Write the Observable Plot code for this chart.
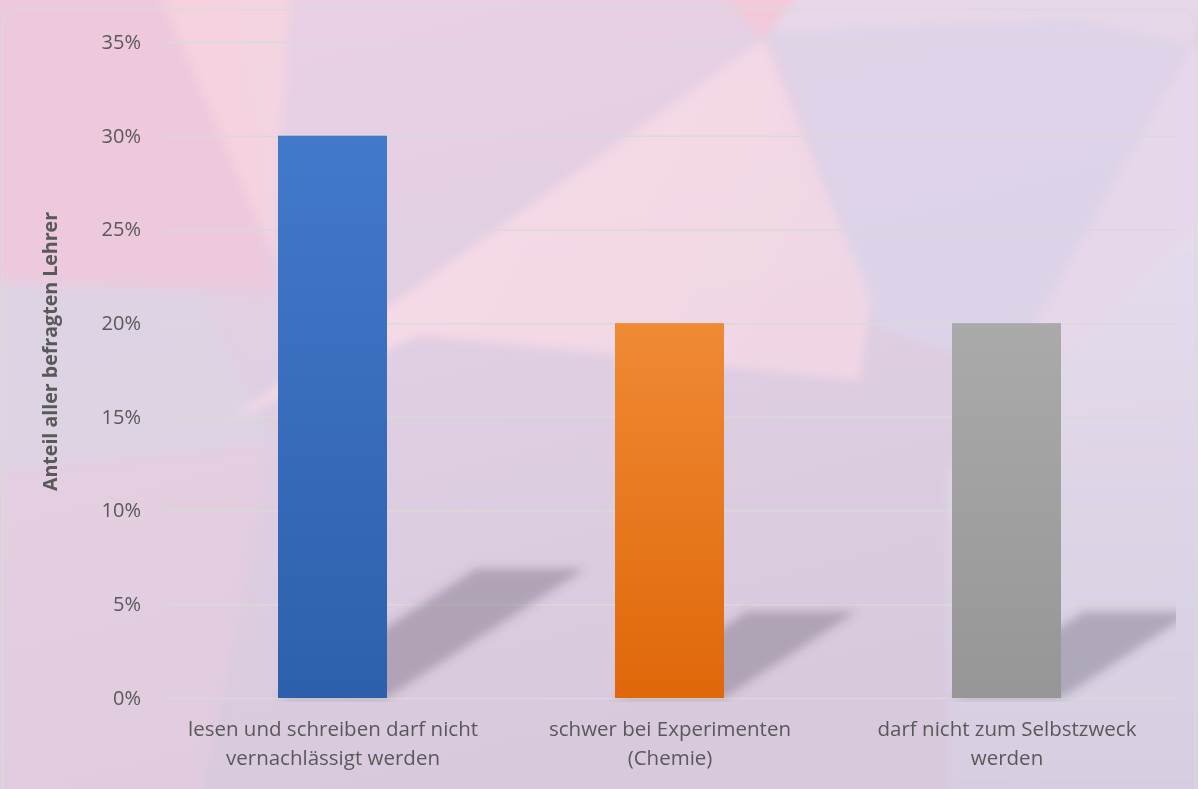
<!DOCTYPE html>
<html>
<head>
<meta charset="utf-8">
<script src="https://cdn.jsdelivr.net/npm/d3@7"></script>
<script src="https://cdn.jsdelivr.net/npm/@observablehq/plot@0.6"></script>
<style>
  html, body { margin: 0; padding: 0; }
  #wrap { position: relative; width: 1198px; height: 789px; overflow: hidden; background: #dccde0; }
  #bg { position: absolute; left: 0; top: 0; }
  #chart { position: absolute; left: 0; top: 0; }
</style>
</head>
<body>
<div id="wrap">
  <svg id="bg" width="1198" height="789" viewBox="0 0 1198 789">
    <defs>
      <linearGradient id="base" x1="0" y1="0" x2="0.4" y2="1">
        <stop offset="0" stop-color="#ecd0e4"/>
        <stop offset="0.5" stop-color="#e0cfe2"/>
        <stop offset="1" stop-color="#d8c9dd"/>
      </linearGradient>
      <linearGradient id="lr" x1="0" y1="0" x2="0" y2="1">
        <stop offset="0" stop-color="#e6e2f0"/>
        <stop offset="1" stop-color="#d6cee2"/>
      </linearGradient>
      <linearGradient id="kite" x1="0" y1="0" x2="1" y2="0.3">
        <stop offset="0" stop-color="#fcdde8"/>
        <stop offset="1" stop-color="#f2d8e6"/>
      </linearGradient>
      <filter id="soft" x="-10%" y="-10%" width="120%" height="120%">
        <feGaussianBlur stdDeviation="5"/>
      </filter>
    </defs>
    <rect x="0" y="0" width="1198" height="789" fill="url(#base)"/>
    <g filter="url(#soft)">
      <polygon points="-10,-10 240,-10 275,290 -10,280" fill="#efc8dc" opacity="0.85"/>
      <polygon points="160,-10 290,-10 275,260" fill="#f8d6e0" opacity="0.7"/>
      <polygon points="-10,285 200,295 275,443 -10,470" fill="#dcd3e3" opacity="0.8"/>
      <polygon points="-10,470 275,443 200,800 -10,800" fill="#e7cde0" opacity="0.55"/>
      <polygon points="230,420 764,38 870,300 860,380 420,335" fill="url(#kite)" opacity="0.9"/>
      <polygon points="720,-10 800,-10 764,38" fill="#f6c6d6" opacity="0.8"/>
      <polygon points="770,32 1080,20 1192,46 1010,370 880,330" fill="#dcd4ea" opacity="0.75"/>
      <polygon points="800,-10 1210,-10 1192,46 1080,20 770,32" fill="#e8dcec" opacity="0.6"/>
      <polygon points="1192,46 1210,46 1210,210 947,474 1010,370" fill="#e8d8ec" opacity="0.85"/>
      <polygon points="947,474 1210,210 1210,800 947,800" fill="url(#lr)" opacity="0.7"/>
    </g>
    <rect x="2.5" y="9.5" width="1193" height="800" rx="16" ry="16" fill="none" stroke="#d9d9d9" stroke-width="1.5"/>
  </svg>
  <div id="chart"></div>
</div>
<script>
const categories = [
  "lesen und schreiben darf nicht\nvernachlässigt werden",
  "schwer bei Experimenten\n(Chemie)",
  "darf nicht zum Selbstzweck\nwerden"
];
const values = [0.30, 0.20, 0.20];
const barTop = ["#4379cb", "#ef8a34", "#aaaaaa"];
const barBottom = ["#2d60ac", "#e0670a", "#969696"];
const yTicks = [0, 0.05, 0.10, 0.15, 0.20, 0.25, 0.30, 0.35];
const yLabel = "Anteil aller befragten Lehrer";
const shadowRatio = 0.23;
const shadowSkew = 1.53;
const shadowColor = "#504458";

const data = categories.map((c, i) => ({cat: c, value: values[i], id: i}));

const chart = Plot.plot({
  width: 1198,
  height: 789,
  marginLeft: 163.5,
  marginRight: 23.5,
  marginTop: 42,
  marginBottom: 91,
  style: {background: "transparent", fontFamily: "'Open Sans', sans-serif", fontSize: "20px", color: "#595959", overflow: "visible"},
  x: {domain: categories, paddingInner: 0.677, paddingOuter: 0.3385, label: null},
  y: {domain: [0, 0.35], label: null},
  marks: [
    Plot.gridY(yTicks, {stroke: "#d9d9d9", strokeOpacity: 1, strokeWidth: 1.5}),
    Plot.barY(data, {x: "cat", y: d => d.value * shadowRatio, fill: shadowColor, fillOpacity: 0.3}),
    ...data.map(d => Plot.barY([d], {x: "cat", y: "value", fill: `url(#grad${d.id})`})),
    Plot.axisY({ticks: yTicks, tickFormat: d => `${Math.round(d * 100)}%`, tickSize: 0, tickPadding: 23, label: null, fontSize: 20, fill: "#595959"}),
    Plot.axisX({tickSize: 0, tickPadding: 17, label: null, lineHeight: 1.4, fontSize: 20.5, fill: "#595959"}),
    Plot.text([yLabel], {frameAnchor: "left", textAnchor: "middle", dx: -113, dy: -19, rotate: -90, fontWeight: "bold", fontSize: 19.6, fill: "#595959"})
  ]
});

let defs = `<defs><filter id="shblur" x="-30%" y="-30%" width="160%" height="160%"><feGaussianBlur stdDeviation="5"/></filter>`;
defs += `<clipPath id="shclip"><rect x="0" y="0" width="1176" height="702"/></clipPath>`;
data.forEach((d, i) => {
  defs += `<linearGradient id="grad${i}" x1="0" y1="0" x2="0" y2="1"><stop offset="0" stop-color="${barTop[i]}"/><stop offset="1" stop-color="${barBottom[i]}"/></linearGradient>`;
});
defs += `</defs>`;
chart.insertAdjacentHTML("afterbegin", defs);

const y0 = chart.scale("y").apply(0);
chart.querySelectorAll(`[fill="${shadowColor}"]`).forEach(g => {
  g.querySelectorAll("rect").forEach(r => {
    r.setAttribute("transform", `matrix(1,0,${-shadowSkew},1,${shadowSkew * y0},0)`);
  });
  const wrap = document.createElementNS("http://www.w3.org/2000/svg", "g");
  wrap.setAttribute("clip-path", "url(#shclip)");
  g.parentNode.insertBefore(wrap, g);
  wrap.appendChild(g);
  g.setAttribute("filter", "url(#shblur)");
});
document.getElementById("chart").appendChild(chart);
</script>
</body>
</html>
